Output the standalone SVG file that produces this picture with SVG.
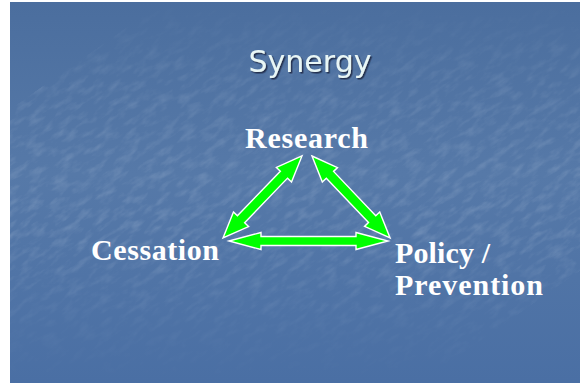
<svg xmlns="http://www.w3.org/2000/svg" width="580" height="383" viewBox="0 0 580 383">
  <defs>
    <linearGradient id="bg" x1="0" y1="0" x2="0" y2="1">
      <stop offset="0" stop-color="#4b6e9e"/>
      <stop offset="0.45" stop-color="#5679a8"/>
      <stop offset="1" stop-color="#4a6fa4"/>
    </linearGradient>
    <linearGradient id="hazeBand" x1="0" y1="0" x2="0" y2="1">
      <stop offset="0" stop-color="#fff" stop-opacity="0"/>
      <stop offset="0.22" stop-color="#fff" stop-opacity="0.7"/>
      <stop offset="0.6" stop-color="#fff" stop-opacity="1"/>
      <stop offset="0.85" stop-color="#fff" stop-opacity="0.3"/>
      <stop offset="1" stop-color="#fff" stop-opacity="0"/>
    </linearGradient>
    <mask id="bandMask">
      <rect x="10" y="2" width="570" height="381" fill="url(#hazeBand)"/>
    </mask>
    <filter id="streaks" x="0" y="0" width="100%" height="100%">
      <feTurbulence type="fractalNoise" baseFrequency="0.06 0.16" numOctaves="4" seed="11"/>
      <feColorMatrix type="matrix" values="0 0 0 0 0.85  0 0 0 0 0.9  0 0 0 0 0.97  0 0 0 1.6 -0.7"/>
    </filter>
    <filter id="titleShadow" x="-10%" y="-20%" width="120%" height="140%">
      <feDropShadow dx="1.5" dy="1.5" stdDeviation="0.4" flood-color="#1b2c45" flood-opacity="0.9"/>
    </filter>
    <style>
      .label { font-family: "Liberation Serif", "Times New Roman", serif; font-weight: bold; font-size: 30px; fill: #ffffff; }
      .title { font-family: "DejaVu Sans", Verdana, sans-serif; font-size: 30px; fill: #e8f6f6; }
      .arrow { fill: #00ff00; stroke: #ffffff; stroke-width: 1.4; stroke-linejoin: miter; }
    </style>
  </defs>

  <!-- slide background -->
  <rect x="0" y="0" width="580" height="383" fill="#ffffff"/>
  <rect x="10" y="2" width="570" height="381" fill="url(#bg)"/>
  <g mask="url(#bandMask)" opacity="0.22">
    <rect x="-40" y="-40" width="660" height="460" filter="url(#streaks)" transform="rotate(-35 295 190)"/>
  </g>

  <!-- title -->
  <text class="title" x="310" y="72" text-anchor="middle" filter="url(#titleShadow)">Synergy</text>

  <!-- connectors -->
  <g id="connectors">
    <!-- Cessation <-> Research -->
    <polygon class="arrow" transform="translate(223,238) rotate(-46.1)"
             points="0,0 26,-10.5 26,-5 87.9,-5 87.9,-10.5 113.9,0 87.9,10.5 87.9,5 26,5 26,10.5"/>
    <!-- Research <-> Policy / Prevention -->
    <polygon class="arrow" transform="translate(312,156) rotate(46.4)"
             points="0,0 26,-10.5 26,-5 87.2,-5 87.2,-10.5 113.2,0 87.2,10.5 87.2,5 26,5 26,10.5"/>
    <!-- Cessation <-> Policy / Prevention -->
    <polygon class="arrow" transform="translate(229,241)"
             points="0,0 32,-8.5 32,-4.5 127,-4.5 127,-8.5 159,0 127,8.5 127,4.5 32,4.5 32,8.5"/>
  </g>

  <!-- nodes -->
  <g id="research">
    <text class="label" x="245" y="148" textLength="123">Research</text>
  </g>
  <g id="cessation">
    <text class="label" x="91" y="260" textLength="128">Cessation</text>
  </g>
  <g id="policy-prevention">
    <text class="label" x="395" y="263" textLength="95">Policy /</text>
    <text class="label" x="395" y="295" textLength="148">Prevention</text>
  </g>
</svg>
